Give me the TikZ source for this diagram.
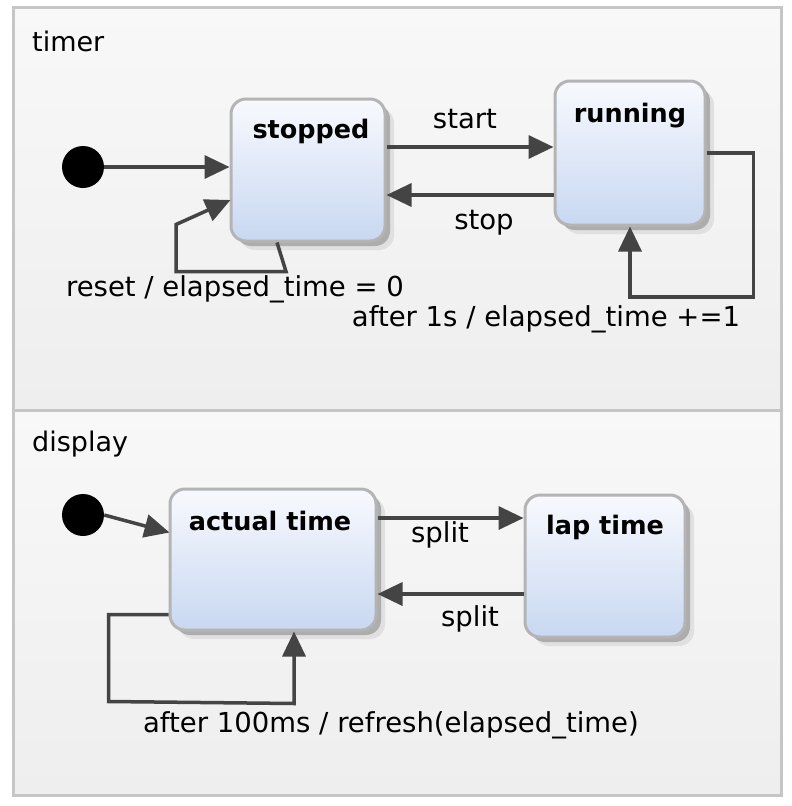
\documentclass[tikz,border=0pt]{standalone}
\usepackage{fontspec}
\setmainfont{DejaVu Sans}
\usetikzlibrary{arrows.meta,shadows,calc}
\definecolor{arrowc}{HTML}{444444}
\definecolor{boxborder}{HTML}{B4B4B4}
\definecolor{boxtop}{HTML}{F8F9FE}
\definecolor{boxbottom}{HTML}{C8D8F1}
\definecolor{paneltop}{HTML}{F8F8F8}
\definecolor{panelbottom}{HTML}{EEEEEE}
\definecolor{panelborder}{HTML}{C6C6C6}
\tikzset{
  panel/.style={draw=panelborder, line width=3pt, top color=paneltop, bottom color=panelbottom},
  panellabel/.style={anchor=west, inner sep=0pt, font=\fontsize{27}{32}\selectfont},
  statebox/.style={draw=boxborder, line width=3pt, rounded corners=15pt,
    top color=boxtop, bottom color=boxbottom, inner sep=0pt,
    drop shadow={shadow xshift=9pt, shadow yshift=-9pt, fill=black!12, opacity=1},
    drop shadow={shadow xshift=5pt, shadow yshift=-5pt, fill=black!32, opacity=1}},
  stitle/.style={anchor=center, yshift=-34pt, font=\fontsize{25.5}{30}\selectfont\bfseries},
  initdot/.style={circle, fill=black, minimum size=42pt, inner sep=0pt},
  trans/.style={draw=arrowc, line width=3.5pt, -{Triangle[length=25pt,width=23pt]}},
  tlabel/.style={inner sep=0pt, font=\fontsize{27.5}{32}\selectfont}
}
\begin{document}
\begin{tikzpicture}[x=1pt,y=-1pt]
\useasboundingbox (0,0) rectangle (792,806);
\fill[white] (0,0) rectangle (792,806);
% panels
\path[panel] (13,7) rectangle (781,410);
\path[panel] (13,410) rectangle (781,795);
\node[panellabel] (timerlbl) at (32,41) {timer};
\node[panellabel] (displaylbl) at (32,444) {display};
% timer states
\node[initdot] (init1) at (83,167) {};
\node[statebox, minimum width=154pt, minimum height=142pt,
  label={[stitle, xshift=3pt]north:stopped}] (stopped) at (308,170) {};
\node[statebox, minimum width=150pt, minimum height=144pt,
  label={[stitle, yshift=-2pt]north:running}] (running) at (630,153) {};
% display states
\node[initdot] (init2) at (83,515) {};
\node[statebox, minimum width=206pt, minimum height=141pt,
  label={[stitle, xshift=-3pt, yshift=1pt]north:actual time}] (actual) at (273,559.5) {};
\node[statebox, minimum width=160pt, minimum height=142pt,
  label={[stitle]north:lap time}] (lap) at (605,566) {};
% timer transitions
\draw[trans] (init1.east) -- (init1.east -| stopped.west);
\coordinate (startfrom) at ($(stopped.east)+(0,-23)$);
\draw[trans] (startfrom) -- (startfrom -| running.west);
\coordinate (stopto) at ($(stopped.east)+(0,25)$);
\draw[trans] (stopto -| running.west) -- (stopto);
\draw[trans] ($(stopped.south)+(-31,0)$) -- ++(9,29) -- ++(-110,0) -- ++(0,-47) -- ($(stopped.west)+(1,30)$);
\draw[trans] (running.east) -- ++(47,0) -- ++(0,144) -- (running.south |- 0,297) -- (running.south);
\node[tlabel] (lstart) at (465,119) {start};
\node[tlabel] (lstop) at (484,223) {stop};
\node[tlabel] (lreset) at (235,289) {reset / elapsed\_time = 0};
\node[tlabel] (lafter1) at (546,319) {after 1s / elapsed\_time +=1};
% display transitions
\draw[trans] (init2.east) -- ($(actual.west)+(1,-27)$);
\coordinate (split1) at ($(actual.east)+(0,-41.5)$);
\draw[trans] (split1) -- (split1 -| lap.west);
\coordinate (split2) at ($(actual.east)+(0,34.5)$);
\draw[trans] (split2 -| lap.west) -- (split2);
\draw[trans] ($(actual.west)+(0,55)$) -- ++(-60,0) -- ++(0,87) -- ($(actual.south)+(21,72)$) -- ($(actual.south)+(21,0)$);
\node[tlabel] (lsplit1) at (440,535) {split};
\node[tlabel] (lsplit2) at (470,619) {split};
\node[tlabel] (lafter2) at (391,725) {after 100ms / refresh(elapsed\_time)};
\end{tikzpicture}
\end{document}
